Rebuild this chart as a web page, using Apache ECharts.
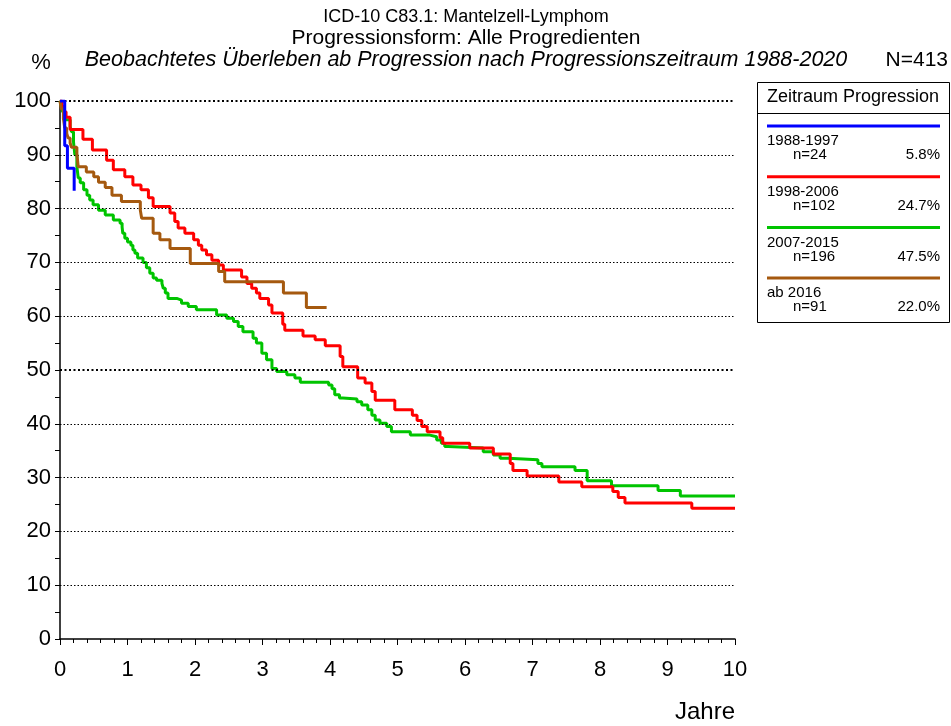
<!DOCTYPE html>
<html><head><meta charset="utf-8">
<script src="https://cdn.jsdelivr.net/npm/echarts@6/dist/echarts.min.js"></script>
<style>html,body{margin:0;padding:0;background:#fff}#c{width:951px;height:726px}</style>
</head><body><div id="c"></div>
<script>
// ---- data (years since progression, survival %) ----
const blueT = [0, 0.07, 0.07, 0.11, 0.21];
const blueS = [100, 95.8, 91.7, 87.5, 83.3];

const redT = [0, 0.03, 0.06, 0.09, 0.15, 0.34, 0.48, 0.69, 0.79, 0.96, 1.08, 1.20, 1.31, 1.38, 1.63, 1.70, 1.75, 1.85, 1.98, 2.05, 2.10, 2.17, 2.25, 2.35, 2.42, 2.69, 2.77, 2.84, 2.91, 2.96, 3.09, 3.14, 3.30, 3.33, 3.60, 3.78, 3.93, 4.15, 4.19, 4.41, 4.52, 4.62, 4.67, 4.96, 5.22, 5.29, 5.36, 5.44, 5.63, 5.67, 6.07, 6.42, 6.67, 6.71, 6.92, 7.39, 7.73, 8.19, 8.27, 8.37, 9.36, 10];
const redS = [100, 99, 98, 97, 94.7, 92.9, 90.9, 89.0, 87.2, 85.9, 84.4, 83.5, 82.0, 80.4, 79.2, 77.6, 76.4, 75.4, 74.2, 73.2, 72.3, 71.4, 70.4, 69.5, 68.6, 67.3, 66.1, 65.2, 64.3, 63.3, 62.1, 60.6, 58.5, 57.4, 56.3, 55.6, 54.5, 52.5, 50.6, 48.5, 47.6, 46.0, 44.4, 42.6, 41.6, 40.6, 39.5, 38.5, 37.4, 36.4, 35.5, 34.4, 32.6, 31.3, 30.3, 29.2, 28.3, 27.4, 26.3, 25.3, 24.3, 24.3];

const greenT = [0, 0.02, 0.04, 0.07, 0.15, 0.17, 0.20, 0.22, 0.25, 0.27, 0.30, 0.35, 0.40, 0.44, 0.49, 0.57, 0.67, 0.79, 0.89, 0.92, 0.93, 0.96, 1.00, 1.05, 1.08, 1.11, 1.15, 1.23, 1.28, 1.33, 1.38, 1.43, 1.51, 1.53, 1.56, 1.60, 1.73, 1.80, 1.90, 2.02, 2.32, 2.47, 2.57, 2.64, 2.71, 2.86, 2.91, 2.99, 3.06, 3.14, 3.21, 3.36, 3.48, 3.56, 3.98, 4.03, 4.07, 4.14, 4.19, 4.40, 4.47, 4.56, 4.62, 4.67, 4.74, 4.84, 4.91, 5.19, 5.48, 5.58, 5.65, 5.70, 5.75, 6.27, 6.42, 6.52, 6.64, 7.08, 7.14, 7.63, 7.81, 8.17, 8.86, 9.19, 10];
const greenS = [100, 99, 98, 96.5, 95.2, 94.3, 92.4, 90.0, 87.8, 85.7, 84.8, 83.5, 82.5, 81.6, 80.7, 79.7, 78.8, 77.9, 77.3, 76.6, 75.4, 74.5, 73.8, 73.2, 72.3, 71.7, 70.8, 70.0, 69.0, 68.0, 67.1, 66.7, 66.1, 65.2, 64.3, 63.3, 63.0, 62.4, 61.8, 61.2, 60.2, 59.6, 59.0, 58.1, 57.1, 55.9, 55.0, 53.1, 51.9, 50.3, 49.7, 49.1, 48.5, 47.7, 47.2, 46.5, 45.4, 44.8, 44.6, 44.1, 43.5, 42.6, 41.6, 40.7, 40.1, 39.5, 38.5, 37.9, 37.6, 37.0, 36.4, 35.8, 35.5, 34.8, 34.2, 33.6, 33.3, 32.6, 32.0, 31.3, 29.4, 28.5, 27.6, 26.6, 26.6];

const brownT = [0, 0.02, 0.05, 0.07, 0.10, 0.12, 0.15, 0.17, 0.25, 0.27, 0.39, 0.50, 0.57, 0.67, 0.77, 0.91, 1.19, 1.21, 1.38, 1.48, 1.63, 1.93, 2.35, 2.44, 3.31, 3.65, 3.95];
const brownS = [100, 98.5, 96.8, 95.0, 94.0, 93.1, 92.2, 91.4, 90.2, 87.8, 86.8, 85.9, 84.9, 83.9, 82.5, 81.3, 79.7, 78.2, 75.4, 74.2, 72.6, 69.8, 68.3, 66.4, 64.3, 61.6, 61.6];

const groupNames = ['1988-1997', '1998-2006', '2007-2015', 'ab 2016'];
const groupN = ['n=24', 'n=102', 'n=196', 'n=91'];
const groupPct = ['5.8%', '24.7%', '47.5%', '22.0%'];
const groupColors = ['#0000ff', '#ff0000', '#00c400', '#a5590f'];

const xTicks = [0, 1, 2, 3, 4, 5, 6, 7, 8, 9, 10];
const yTicks = [0, 10, 20, 30, 40, 50, 60, 70, 80, 90, 100];
const gridValues = [10, 20, 30, 40, 50, 60, 70, 80, 90, 100];
const boldGrid = [50, 100];

const titleLines = ['ICD-10 C83.1: Mantelzell-Lymphom', 'Progressionsform: Alle Progredienten', 'Beobachtetes Überleben ab Progression nach Progressionszeitraum 1988-2020'];

// ---- chart ----
const FONT = '"Liberation Sans", Arial, sans-serif';
const pairs = (t, s) => t.map((v, i) => [v, s[i]]);
const seriesData = [pairs(blueT, blueS), pairs(redT, redS), pairs(greenT, greenS), pairs(brownT, brownS)];

const chart = echarts.init(document.getElementById('c'), null, {renderer: 'canvas'});

const series = [{
  type: 'line', data: [], silent: true, z: 1,
  markLine: {
    silent: true, symbol: ['none', 'none'], label: {show: false},
    data: gridValues.map(v => ({
      yAxis: v,
      lineStyle: boldGrid.includes(v)
        ? {color: '#000', width: 2, type: [2, 2.5]}
        : {color: '#000', width: 1, type: [1.5, 2]}
    }))
  }
}];
const zOrder = [6, 4, 3, 5];
seriesData.forEach((d, i) => series.push({
  type: 'line', name: groupNames[i], data: d, step: 'end', showSymbol: false, symbol: 'none',
  lineStyle: {color: groupColors[i], width: 3}, z: zOrder[i], silent: true, animation: false
}));

const graphic = [];
const tSizes = [18, 21, 21.5];
const tY = [17, 38, 60];
titleLines.forEach((t, i) => graphic.push({
  type: 'text', x: 466, y: tY[i],
  style: {text: t, font: (i === 2 ? 'italic ' : '') + tSizes[i] + 'px ' + FONT, fill: '#000', textAlign: 'center', textVerticalAlign: 'middle'}
}));
graphic.push({type: 'text', x: 41, y: 63, style: {text: '%', font: '22px ' + FONT, fill: '#000', textAlign: 'center', textVerticalAlign: 'middle'}});
graphic.push({type: 'text', x: 948, y: 60, style: {text: 'N=413', font: '21px ' + FONT, fill: '#000', textAlign: 'right', textVerticalAlign: 'middle'}});
graphic.push({type: 'text', x: 735, y: 712, style: {text: 'Jahre', font: '24px ' + FONT, fill: '#000', textAlign: 'right', textVerticalAlign: 'middle'}});

// legend box
graphic.push({type: 'rect', shape: {x: 757.5, y: 82.5, width: 192, height: 240}, style: {fill: '#fff', stroke: '#000', lineWidth: 1}});
graphic.push({type: 'text', x: 853, y: 97, style: {text: 'Zeitraum Progression', font: '18px ' + FONT, fill: '#000', textAlign: 'center', textVerticalAlign: 'middle'}});
graphic.push({type: 'line', shape: {x1: 757.5, y1: 113.5, x2: 949.5, y2: 113.5}, style: {stroke: '#000', lineWidth: 1}});
groupNames.forEach((nm, i) => {
  const y0 = 126 + 50.7 * i;
  graphic.push({type: 'line', shape: {x1: 767, y1: y0, x2: 940, y2: y0}, style: {stroke: groupColors[i], lineWidth: 3}});
  graphic.push({type: 'text', x: 767, y: y0 + 15, style: {text: nm, font: '15px ' + FONT, fill: '#000', textAlign: 'left', textVerticalAlign: 'middle'}});
  graphic.push({type: 'text', x: 793, y: y0 + 29, style: {text: groupN[i], font: '15px ' + FONT, fill: '#000', textAlign: 'left', textVerticalAlign: 'middle'}});
  graphic.push({type: 'text', x: 940, y: y0 + 29, style: {text: groupPct[i], font: '15px ' + FONT, fill: '#000', textAlign: 'right', textVerticalAlign: 'middle'}});
});

chart.setOption({
  animation: false,
  backgroundColor: '#fff',
  grid: {left: 60, right: 216, top: 101, bottom: 87, containLabel: false},
  xAxis: {
    type: 'value', min: xTicks[0], max: xTicks[xTicks.length - 1], interval: 1, offset: 8,
    axisLine: {show: true, lineStyle: {color: '#000', width: 1.5}},
    axisTick: {show: true, length: 6, lineStyle: {color: '#000', width: 1}},
    minorTick: {show: true, splitNumber: 5, length: 4, lineStyle: {color: '#000', width: 1}},
    axisLabel: {color: '#000', fontSize: 22, fontFamily: FONT, margin: 12},
    splitLine: {show: false}
  },
  yAxis: {
    type: 'value', min: yTicks[0], max: yTicks[yTicks.length - 1], interval: 10, offset: 5,
    axisLine: {show: true, lineStyle: {color: '#000', width: 1.5}},
    axisTick: {show: true, length: 5, lineStyle: {color: '#000', width: 1}},
    minorTick: {show: true, splitNumber: 2, length: 5, lineStyle: {color: '#000', width: 1}},
    axisLabel: {color: '#000', fontSize: 22, fontFamily: FONT, margin: 4},
    splitLine: {show: false}
  },
  graphic: graphic,
  series: series
});
</script></body></html>
